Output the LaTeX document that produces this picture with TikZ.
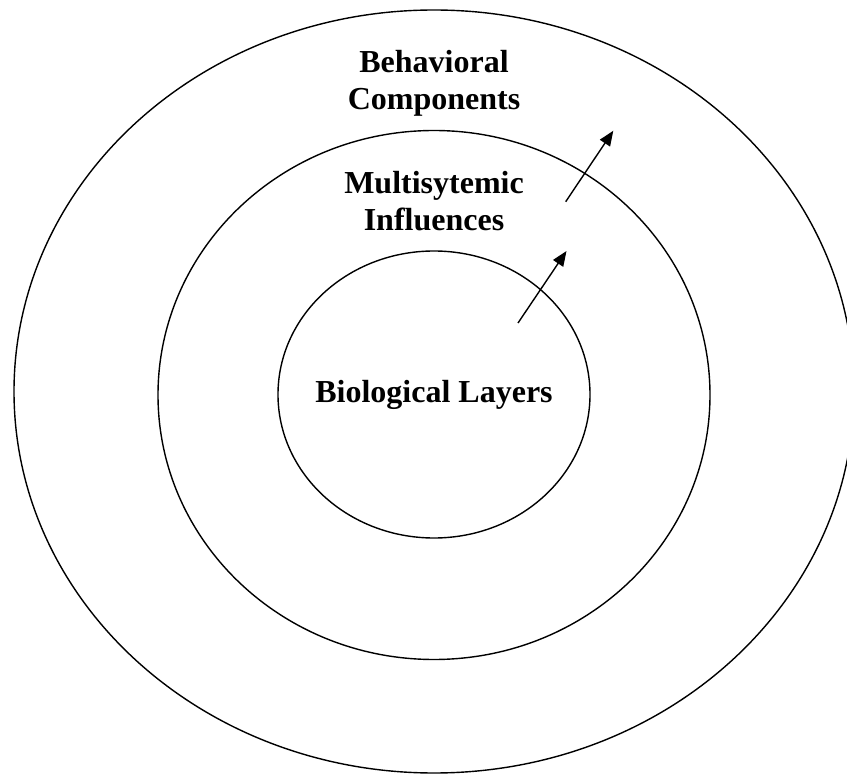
\documentclass[tikz,border=0pt]{standalone}
\usepackage{fontspec}
\setmainfont{Liberation Serif}
\usetikzlibrary{shapes.geometric,arrows.meta}
\begin{document}
\begin{tikzpicture}[x=1pt,y=-1pt,
  ring/.style={draw,ellipse,line width=1.4pt,inner sep=0pt,outer sep=0pt},
  lbl/.style={font=\bfseries\fontsize{32}{37}\selectfont,align=center,inner sep=0pt,anchor=base},
  up/.style={line width=1.4pt,-{Triangle[length=15pt,width=12pt]}}]
\useasboundingbox (0,0) rectangle (847,775);
\clip (0,0) rectangle (847,775);
\node[ring,minimum width=840pt,minimum height=763pt] (outer) at (434,391.5) {};
\node[ring,minimum width=552pt,minimum height=529pt] (middle) at (434,395) {};
\node[ring,minimum width=312pt,minimum height=287pt] (inner) at (434,394.5) {};
\node[lbl] (beh) at (434,110) {Behavioral\\Components};
\node[lbl] (mul) at (434,231) {Multisytemic\\Influences};
\node[lbl] (bio) at (434,403) {Biological Layers};
\coordinate (a1s) at (518,323);
\coordinate (a1e) at (566.5,251);
\coordinate (a2s) at (565.7,201.7);
\coordinate (a2e) at (613.3,130.7);
\draw[up] (a1s) -- (a1e);
\draw[up] (a2s) -- (a2e);
\end{tikzpicture}
\end{document}
